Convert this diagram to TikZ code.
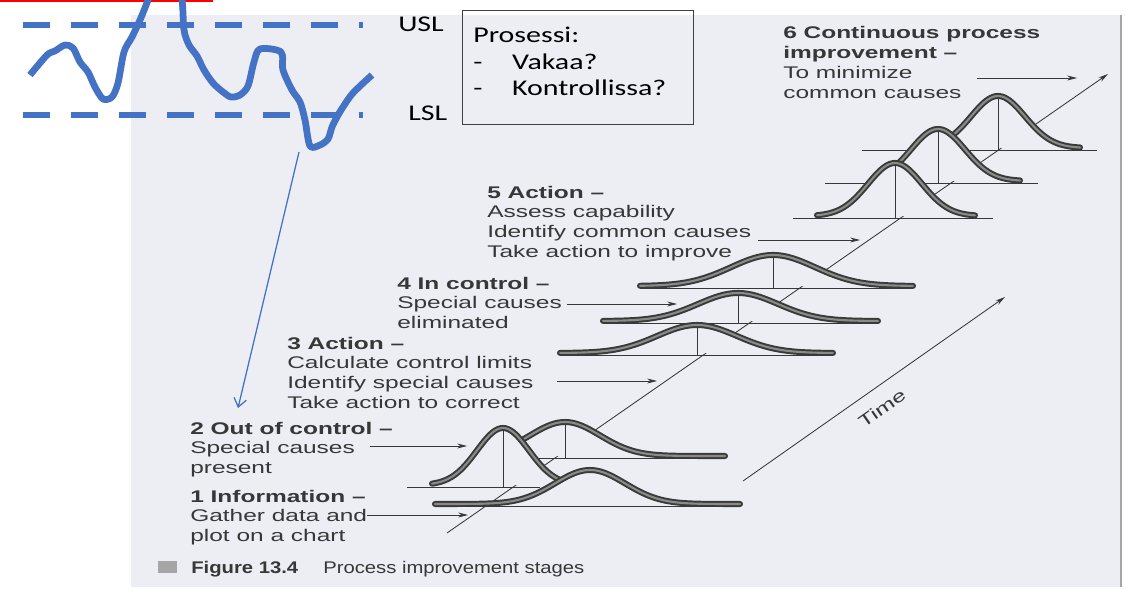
\documentclass[tikz,border=0pt]{standalone}
\usepackage{fontspec}
\usepackage{graphicx}
\usetikzlibrary{arrows.meta}
\newfontfamily\scanfont{Liberation Sans}
\newfontfamily\slidefont{Carlito}
\definecolor{scanbg}{RGB}{237,237,244}
\definecolor{scanink}{RGB}{55,55,55}
\definecolor{tubedark}{RGB}{58,58,58}
\definecolor{tubelight}{RGB}{138,138,138}
\definecolor{slideblue}{RGB}{68,114,196}
\newcommand{\wide}[2][1.45]{\scalebox{#1}[1]{#2}}
\newcommand{\bell}[8]{%
  \fill[scanbg] (#5,#2-2) -- plot[domain=#5:#6] (\x,{#2-2-#3*exp(-0.5*((\x-#1)/#4)*((\x-#1)/#4))}) -- (#6,#2-2) -- cycle;
  \draw[groundline] (#7,#2) -- (#8,#2);
  \draw[tube] plot[domain=#5:#6] (\x,{#2-2-#3*exp(-0.5*((\x-#1)/#4)*((\x-#1)/#4))});}

\begin{document}
\begin{tikzpicture}[x=0.025cm, y=-0.025cm, samples=60,
  tube/.style={draw=tubedark, line width=1.4pt, double=tubelight, double distance=1.5pt, smooth, line cap=round},
  groundline/.style={draw=scanink, line width=0.7pt},
  scantext/.style={text=scanink, font=\scanfont\fontsize{12}{14}\selectfont, inner sep=0pt, anchor=base west},
  slidetext/.style={text=black, font=\slidefont\fontsize{16}{18.5}\selectfont, inner sep=0pt, anchor=base west},
  pointer/.style={draw=scanink, line width=0.6pt, -{Stealth[length=7pt,width=3.5pt]}},
  blueline/.style={draw=slideblue, line width=4.8pt}]
\useasboundingbox (0,0) rectangle (1127,591);
\clip (0,0) rectangle (1127,591);
\fill[white] (0,0) rectangle (1127,591);
\fill[scanbg] (131,15) rectangle (1122,587);
\draw[gray!70, line width=0.8pt] (1121,15) -- (1121,587);

\coordinate (time0) at (447,533);
\coordinate (time1) at (1108,74);
\draw[pointer] (time0) -- (time1);

\bell{565}{458}{34}{35}{520}{725}{537}{725}
\draw[groundline] (565,458) -- (565,424);
\bell{503}{487}{57}{26}{432}{572}{407}{540}
\draw[groundline] (503,487) -- (503,430);
\bell{590}{506}{34}{35}{435}{740}{435}{740}

\bell{773}{288}{31}{42}{640}{913}{640}{913}
\draw[groundline] (773,288) -- (773,257);
\bell{738}{323}{28}{40}{603}{878}{603}{878}
\draw[groundline] (738,323) -- (738,295);
\bell{697}{355}{28}{40}{560}{833}{560}{833}
\draw[groundline] (697,355) -- (697,327);

\bell{998}{150}{52}{27}{945}{1080}{862}{1097}
\draw[groundline] (998,150) -- (998,98);
\bell{938}{183}{52}{27}{880}{1020}{825}{1038}
\draw[groundline] (938,183) -- (938,131);
\bell{895}{218}{53}{27}{817}{975}{793}{993}
\draw[groundline] (895,218) -- (895,165);

\coordinate (axis0) at (743,481);
\coordinate (axis1) at (1005,297);
\draw[pointer] (axis0) -- (axis1);
\node[scantext, anchor=center, rotate=35] (timelabel) at (882,408) {\wide{Time}};

\node[scantext] (stagesix) at (783,39) {\wide{\begin{tabular}[t]{@{}l@{}}\textbf{6 Continuous process}\\\textbf{improvement –}\\To minimize\\common causes\end{tabular}}};
\node[scantext] (stagefive) at (487,198) {\wide{\begin{tabular}[t]{@{}l@{}}\textbf{5 Action –}\\Assess capability\\Identify common causes\\Take action to improve\end{tabular}}};
\node[scantext] (stagefour) at (397,289) {\wide{\begin{tabular}[t]{@{}l@{}}\textbf{4 In control –}\\Special causes\\eliminated\end{tabular}}};
\node[scantext] (stagethree) at (287,349) {\wide{\begin{tabular}[t]{@{}l@{}}\textbf{3 Action –}\\Calculate control limits\\Identify special causes\\Take action to correct\end{tabular}}};
\node[scantext] (stagetwo) at (190,434) {\wide{\begin{tabular}[t]{@{}l@{}}\textbf{2 Out of control –}\\Special causes\\present\end{tabular}}};
\node[scantext] (stageone) at (190,502) {\wide{\begin{tabular}[t]{@{}l@{}}\textbf{1 Information –}\\Gather data and\\plot on a chart\end{tabular}}};

\coordinate (p6) at (977,78);  \coordinate (q6) at (1077,78);
\coordinate (p5) at (758,240); \coordinate (q5) at (860,240);
\coordinate (p4) at (567,304); \coordinate (q4) at (677,304);
\coordinate (p3) at (557,381); \coordinate (q3) at (657,381);
\coordinate (p2) at (370,446); \coordinate (q2) at (467,446);
\coordinate (p1) at (367,515); \coordinate (q1) at (468,515);
\draw[pointer] (p6) -- (q6);
\draw[pointer] (p5) -- (q5);
\draw[pointer] (p4) -- (q4);
\draw[pointer] (p3) -- (q3);
\draw[pointer] (p2) -- (q2);
\draw[pointer] (p1) -- (q1);

\fill[gray!70] (158,561) rectangle (177,573);
\node[scantext] (figno) at (191,573) {\wide[1.2]{\textbf{Figure 13.4}}};
\node[scantext] (figtitle) at (323,573) {\wide[1.2]{Process improvement stages}};

\fill[red] (0,0) rectangle (213,2.5);
\draw[blueline, dash pattern=on 19.2pt off 14.9pt] (23,25) -- (363,25);
\draw[blueline, dash pattern=on 19.2pt off 14.9pt] (23,115) -- (363,115);
\draw[blueline, line join=round] plot[smooth, tension=0.5] coordinates {(30,75) (47,55) (55,51) (65,45) (73,48) (80,62) (88,72) (95,87) (103,99) (112,97) (118,83) (124,52) (132,37) (140,20) (148,0) (158,-30) (175,-30) (182,0) (184,30) (189,45) (197,56) (204,70) (213,83) (223,92) (231,97) (240,95) (248,86) (254,62) (260,49) (281,52) (283,70) (292,90) (300,102) (305,120) (310,146) (320,145) (328,139) (332,127) (337,117) (343,107) (353,93) (372,75)};
\node[slidetext] (usl) at (398,32) {\wide[1.33]{USL}};
\node[slidetext] (lsl) at (408,120) {\wide[1.33]{LSL}};
\node[draw=black!75, line width=0.6pt, minimum width=5.775cm, minimum height=2.85cm, anchor=north west, inner sep=0pt] (question) at (462,10) {};
\node[slidetext] (questiontext) at (473,43) {\wide[1.33]{\begin{tabular}[t]{@{}l@{}}Prosessi:\\\makebox[20.8pt][l]{-}Vakaa?\\\makebox[20.8pt][l]{-}Kontrollissa?\end{tabular}}};

\coordinate (dip) at (299,152);
\coordinate (outofcontrol) at (238,408);
\draw[slideblue, line width=0.9pt, -{Straight Barb[length=6pt,width=9pt]}] (dip) -- (outofcontrol);
\end{tikzpicture}
\end{document}
